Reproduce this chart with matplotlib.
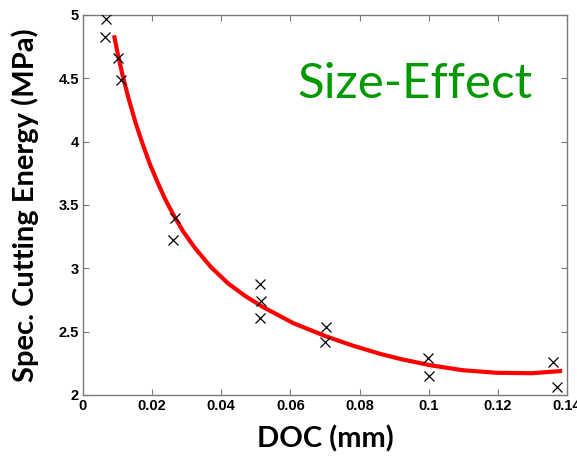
import numpy as np
import matplotlib
matplotlib.use('Agg')
import matplotlib.pyplot as plt

# measured points (DOC mm, specific cutting energy MPa)
doc = [0.0067, 0.0064, 0.0101, 0.0110, 0.0260, 0.0266, 0.0512, 0.0515, 0.0512,
       0.0703, 0.0700, 0.0998, 0.1000, 0.1360, 0.1370]
energy = [4.97, 4.83, 4.66, 4.49, 3.22, 3.40, 2.88, 2.74, 2.61,
          2.54, 2.42, 2.29, 2.15, 2.26, 2.06]

# fitted curve
fit_doc = [0.0090, 0.0100, 0.0115, 0.0130, 0.0152, 0.0174, 0.0194, 0.0214, 0.0237,
           0.0260, 0.0290, 0.0324, 0.0370, 0.0420, 0.0470, 0.0520, 0.0610, 0.0706,
           0.0780, 0.0859, 0.0917, 0.1004, 0.1100, 0.1198, 0.1300, 0.1386]
fit_energy = [4.84, 4.70, 4.52, 4.36, 4.15, 3.97, 3.82, 3.69, 3.55,
              3.43, 3.29, 3.16, 3.01, 2.88, 2.78, 2.695, 2.565, 2.46,
              2.39, 2.325, 2.285, 2.235, 2.195, 2.175, 2.172, 2.19]

fig = plt.figure(figsize=(5.77, 4.57), dpi=100)
ax = fig.add_axes([0.1438, 0.1357, 0.8389, 0.8315])

ax.plot(fit_doc, fit_energy, color='red', lw=3, solid_capstyle='butt',
        solid_joinstyle='round', zorder=2)
ax.plot(doc, energy, 'x', color='black', ms=7, mew=0.9, zorder=3)

ax.set_xlim(0, 0.14)
ax.set_ylim(2, 5)
ax.set_xticks([0, 0.02, 0.04, 0.06, 0.08, 0.1, 0.12, 0.14])
ax.set_xticklabels(['0', '0.02', '0.04', '0.06', '0.08', '0.1', '0.12', '0.14'])
ax.set_yticks([2, 2.5, 3, 3.5, 4, 4.5, 5])
ax.set_yticklabels(['2', '2.5', '3', '3.5', '4', '4.5', '5'])

for s in ax.spines.values():
    s.set_color('#7a7a7a')
    s.set_linewidth(1)
ax.tick_params(direction='in', length=4, width=0.8, color='#7a7a7a',
               top=True, right=True, pad=3)
for lab in ax.get_xticklabels() + ax.get_yticklabels():
    lab.set_fontfamily('Liberation Sans')
    lab.set_fontweight('bold')
    lab.set_fontsize(10.5)
    lab.set_color('black')

ax.set_xlabel('DOC (mm)', fontfamily='Lato', fontweight='bold', fontsize=21, labelpad=9)
ax.set_ylabel('Spec. Cutting Energy (MPa)', fontfamily='Lato', fontweight='bold',
              fontsize=21, labelpad=14)

ax.text(0.686, 0.818, 'Size-Effect', transform=ax.transAxes, ha='center', va='center',
        fontfamily='Lato', fontsize=35.5, color='#009a00')

fig.savefig('out.png', dpi=100)
